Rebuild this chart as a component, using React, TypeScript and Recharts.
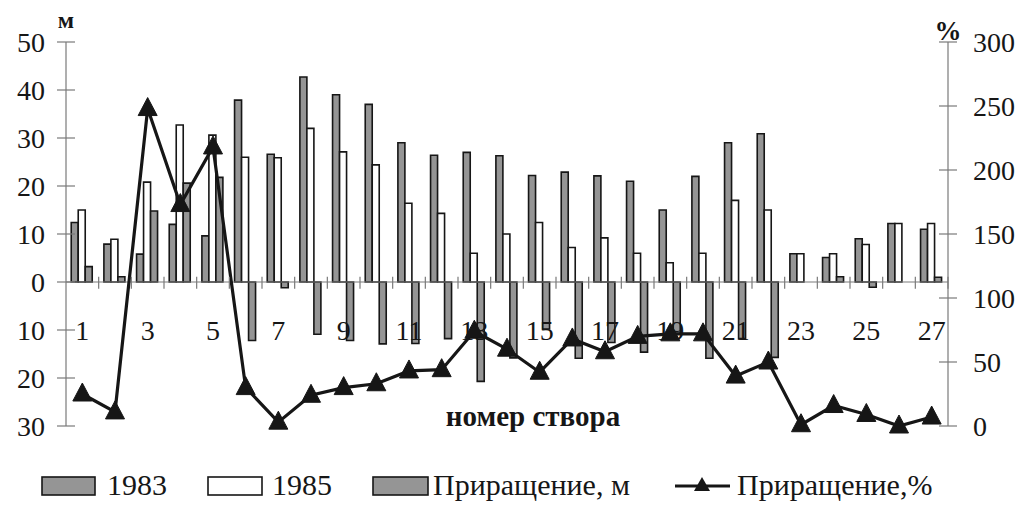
import { ComposedChart, Bar, Line, XAxis, YAxis, ReferenceLine } from 'recharts';

// номер створа
const stvor = ['1', '2', '3', '4', '5', '6', '7', '8', '9', '10', '11', '12', '13', '14',
  '15', '16', '17', '18', '19', '20', '21', '22', '23', '24', '25', '26', '27'];

// м
const val1983 = [12.4, 7.9, 5.8, 12.0, 9.6, 37.9, 26.6, 42.7, 39.0, 37.0, 29.0, 26.4, 27.0, 26.3,
  22.2, 22.9, 22.1, 21.0, 15.0, 22.0, 29.0, 30.9, 5.9, 5.1, 9.0, 12.2, 11.0];
const val1985 = [15.0, 8.9, 20.8, 32.7, 30.6, 26.0, 25.9, 32.0, 27.1, 24.4, 16.4, 14.3, 6.0, 10.0,
  12.4, 7.2, 9.2, 6.0, 4.0, 6.0, 17.0, 15.0, 5.9, 5.9, 7.8, 12.2, 12.2];
const incrM = [3.2, 1.1, 14.8, 20.6, 21.8, -12.2, -1.2, -10.9, -12.2, -12.9, -12.8, -11.8, -20.7, -15.8,
  -9.8, -15.9, -12.6, -14.6, -10.9, -15.9, -11.8, -15.7, 0, 1.1, -1.1, 0, 1.0];
// %
const incrPct = [25, 11, 248, 173, 218, 30, 3, 24, 30, 33, 43, 44, 74, 60,
  42, 68, 58, 70, 72, 72, 39, 50, 1, 16, 9, 0, 7];

const leftTicks = [-30, -20, -10, 0, 10, 20, 30, 40, 50];
const rightTicks = [0, 50, 100, 150, 200, 250, 300];

const data = stvor.map((name, i) => ({
  name,
  y1983: val1983[i],
  y1985: val1985[i],
  incr: incrM[i],
  pct: incrPct[i],
}));

const W = 1021;
const H = 508;
const MARGIN = { top: 42, right: 0, bottom: 81, left: 0 };
const LEFT_W = 66;
const RIGHT_W = 73;
const PLOT_L = LEFT_W;
const PLOT_R = W - RIGHT_W;
const PLOT_T = MARGIN.top;
const PLOT_B = H - MARGIN.bottom;
const ZERO_Y = PLOT_T + ((PLOT_B - PLOT_T) * 50) / 80;
const BAND = (PLOT_R - PLOT_L) / stvor.length;

const SERIF = '"Liberation Serif", "Times New Roman", serif';
const GREY = '#959595';
const INK = '#161616';
const AXIS = '#7a7a7a';

function LeftTick({ y, payload }: any) {
  return (
    <g>
      <line x1={PLOT_L - 9} x2={PLOT_L + 9} y1={y} y2={y} stroke={AXIS} strokeWidth={1.2} />
      <text x={45} y={y} dy={10} textAnchor="end" fontSize={28} fontFamily={SERIF} fill={INK}>
        {Math.abs(payload.value)}
      </text>
    </g>
  );
}

function RightTick({ y, payload }: any) {
  return (
    <g>
      <line x1={PLOT_R - 9} x2={PLOT_R + 9} y1={y} y2={y} stroke={AXIS} strokeWidth={1.2} />
      <text x={973} y={y} dy={10} textAnchor="start" fontSize={28} fontFamily={SERIF} fill={INK}>
        {payload.value}
      </text>
    </g>
  );
}

function CatTick({ x, payload, index }: any) {
  const odd = Number(payload.value) % 2 === 1;
  const last = index === stvor.length - 1;
  return (
    <g>
      {index > 0 && (
        <line x1={x - BAND / 2} x2={x - BAND / 2} y1={ZERO_Y - 6} y2={ZERO_Y + 6} stroke={AXIS} strokeWidth={1.2} />
      )}
      {last && (
        <line x1={x + BAND / 2} x2={x + BAND / 2} y1={ZERO_Y - 6} y2={ZERO_Y + 6} stroke={AXIS} strokeWidth={1.2} />
      )}
      {odd && (
        <text x={x} y={ZERO_Y + 57} textAnchor="middle" fontSize={28} fontFamily={SERIF} fill={INK}>
          {payload.value}
        </text>
      )}
    </g>
  );
}

function Triangle({ cx, cy, index }: any) {
  if (cx == null || cy == null) return <g key={index} />;
  return (
    <polygon
      key={index}
      points={`${cx},${cy - 11} ${cx - 9.5},${cy + 7} ${cx + 9.5},${cy + 7}`}
      fill={INK}
      stroke={INK}
      strokeWidth={1}
    />
  );
}

function Overlay() {
  return (
    <svg
      width={W}
      height={H}
      style={{ position: 'absolute', left: 0, top: 0, pointerEvents: 'none' }}
    >
      <text x={PLOT_L} y={28} textAnchor="middle" fontSize={24} fontWeight="bold" fontFamily={SERIF} fill={INK}>м</text>
      <text x={PLOT_R} y={40} textAnchor="middle" fontSize={27} fontWeight="bold" fontFamily={SERIF} fill={INK}>%</text>
      <text x={533} y={426} textAnchor="middle" fontSize={29} fontWeight="bold" fontFamily={SERIF} fill={INK}>номер створа</text>

      <g fontFamily={SERIF} fontSize={30} fill={INK}>
        <rect x={42} y={477} width={53} height={18} fill={GREY} stroke={INK} strokeWidth={1.6} />
        <text x={107} y={495}>1983</text>
        <rect x={208} y={477} width={54} height={18} fill="#fff" stroke={INK} strokeWidth={1.6} />
        <text x={272} y={495}>1985</text>
        <rect x={373} y={477} width={55} height={18} fill={GREY} stroke={INK} strokeWidth={1.6} />
        <text x={433} y={495}>Приращение, м</text>
        <line x1={675} x2={730} y1={486} y2={486} stroke={INK} strokeWidth={3} />
        <polygon points="702,477 694,491 710,491" fill={INK} />
        <text x={737} y={495}>Приращение,%</text>
      </g>
    </svg>
  );
}

export default function App() {
  return (
    <div style={{ position: 'absolute', left: 0, top: 0, width: W, height: H, background: '#fff' }}>
      <ComposedChart width={W} height={H} data={data} margin={MARGIN} barGap={0} barCategoryGap="16%">
        <XAxis
          dataKey="name"
          height={1}
          axisLine={false}
          tickLine={false}
          interval={0}
          tick={<CatTick />}
        />
        <YAxis
          yAxisId="left"
          width={LEFT_W}
          domain={[-30, 50]}
          ticks={leftTicks}
          axisLine={{ stroke: AXIS, strokeWidth: 1.2 }}
          tickLine={false}
          tick={<LeftTick />}
        />
        <YAxis
          yAxisId="right"
          orientation="right"
          width={RIGHT_W}
          domain={[0, 300]}
          ticks={rightTicks}
          axisLine={{ stroke: AXIS, strokeWidth: 1.2 }}
          tickLine={false}
          tick={<RightTick />}
        />
        <ReferenceLine y={0} yAxisId="left" stroke={AXIS} strokeWidth={1.2} />
        <Bar yAxisId="left" dataKey="y1983" name="1983" fill={GREY} stroke={INK} strokeWidth={1.6} isAnimationActive={false} />
        <Bar yAxisId="left" dataKey="y1985" name="1985" fill="#fff" stroke={INK} strokeWidth={1.6} isAnimationActive={false} />
        <Bar yAxisId="left" dataKey="incr" name="Приращение, м" fill={GREY} stroke={INK} strokeWidth={1.6} isAnimationActive={false} />
        <Line
          yAxisId="right"
          dataKey="pct"
          name="Приращение,%"
          type="linear"
          stroke={INK}
          strokeWidth={3.2}
          dot={<Triangle />}
          activeDot={false}
          isAnimationActive={false}
        />
      </ComposedChart>
      <Overlay />
    </div>
  );
}
